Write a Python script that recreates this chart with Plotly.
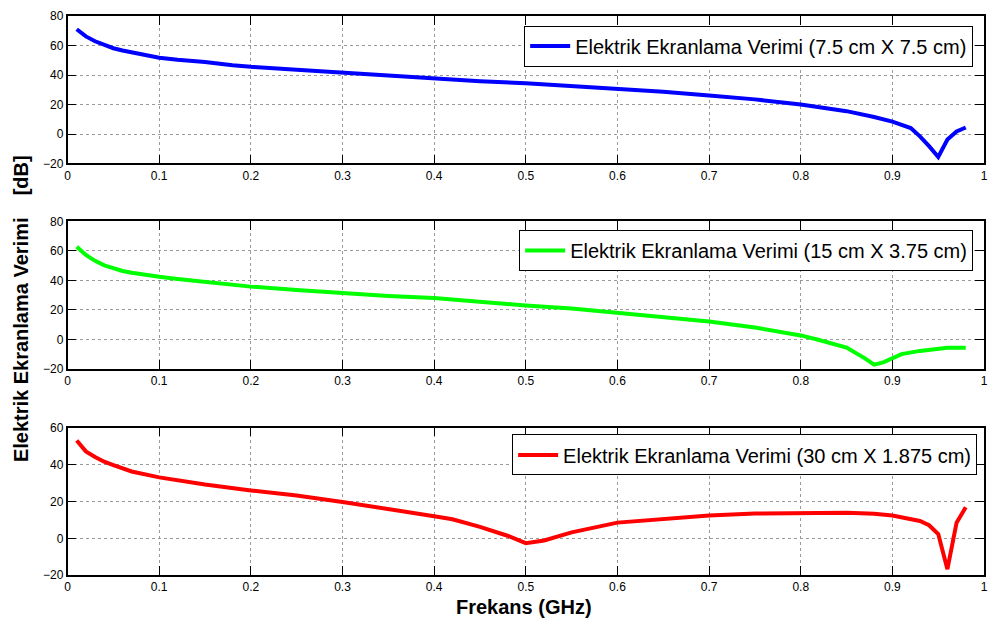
import plotly.graph_objects as go
from plotly.subplots import make_subplots

# ---- data ----
freq_blue = [0.01,0.02,0.03,0.04,0.05,0.06,0.07,0.08,0.09,0.10,0.12,0.15,0.18,0.20,0.25,0.30,0.35,0.40,0.45,
             0.50,0.55,0.60,0.65,0.70,0.75,0.80,0.85,0.88,0.90,0.92,0.93,0.94,0.95,0.96,0.97,0.98]
se_blue = [71.1,66.2,62.9,60.2,58.2,56.7,55.3,54.0,53.1,51.8,50.4,48.9,46.7,45.6,43.6,41.6,39.6,37.6,35.8,
           34.4,32.5,30.7,28.7,26.2,23.5,20.0,15.5,11.5,8.4,4.0,-1.6,-8.2,-15.6,-3.8,1.7,4.4]

freq_green = [0.01,0.02,0.03,0.04,0.05,0.06,0.07,0.08,0.09,0.10,0.12,0.15,0.18,0.20,0.25,0.30,0.35,0.40,0.45,
              0.50,0.55,0.60,0.65,0.70,0.75,0.80,0.82,0.85,0.87,0.88,0.89,0.90,0.91,0.93,0.95,0.96,0.98]
se_green = [62.9,57.3,53.3,50.2,48.4,46.4,45.2,44.2,43.2,42.5,41.0,39.0,37.0,35.8,33.5,31.3,29.5,28.0,25.3,
            23.0,21.0,18.0,15.0,12.1,8.1,2.7,-0.4,-5.5,-12.9,-17.1,-15.6,-12.9,-10.0,-7.8,-6.2,-5.6,-5.6]

freq_red = [0.01,0.02,0.03,0.04,0.05,0.07,0.10,0.12,0.15,0.20,0.25,0.30,0.35,0.40,0.42,0.45,0.48,0.50,0.52,
            0.55,0.60,0.65,0.70,0.75,0.80,0.85,0.88,0.90,0.93,0.94,0.95,0.96,0.97,0.98]
se_red = [53.0,47.1,44.1,41.5,39.7,36.2,33.0,31.4,29.1,25.9,23.2,19.7,16.1,12.0,10.3,6.2,1.4,-2.6,-1.2,
          3.2,8.5,10.6,12.4,13.4,13.8,13.8,13.3,12.4,9.4,7.1,2.3,-16.7,8.5,16.8]

names = ["Elektrik Ekranlama Verimi (7.5 cm X 7.5 cm)",
         "Elektrik Ekranlama Verimi (15 cm X 3.75 cm)",
         "Elektrik Ekranlama Verimi (30 cm X 1.875 cm)"]
colors = ["#0000FF", "#00FF00", "#FF0000"]

x_ticks = [0, 0.1, 0.2, 0.3, 0.4, 0.5, 0.6, 0.7, 0.8, 0.9, 1]
x_tick_text = ["0", "0.1", "0.2", "0.3", "0.4", "0.5", "0.6", "0.7", "0.8", "0.9", "1"]
y_ranges = [[-20, 80], [-20, 80], [-20, 60]]
y_ticks = [[-20, 0, 20, 40, 60, 80], [-20, 0, 20, 40, 60, 80], [-20, 0, 20, 40, 60]]

W, H = 998, 637
fig = make_subplots(rows=3, cols=1)

series = [(freq_blue, se_blue), (freq_green, se_green), (freq_red, se_red)]
legend_ids = ["legend", "legend2", "legend3"]
for i, (xs, ys) in enumerate(series):
    fig.add_trace(go.Scatter(x=xs, y=ys, mode="lines", name=names[i],
                             line=dict(color=colors[i], width=4),
                             legend=legend_ids[i], showlegend=True),
                  row=i + 1, col=1)

# pixel geometry of the three plot areas (top, bottom in px)
panels = [(9.3, 160.0), (219.3, 370.0), (430.0, 581.0)]
x0, x1 = 65 / W, 988 / W
font = "Liberation Sans, Arial, sans-serif"

for i, (top, bot) in enumerate(panels):
    ax = "" if i == 0 else str(i + 1)
    fig.layout["xaxis" + ax].update(
        domain=[x0, x1], range=[0, 1], tickvals=x_ticks, ticktext=x_tick_text,
        ticks="inside", ticklen=9, tickcolor="black", mirror="ticks",
        showline=True, linecolor="black", linewidth=1.5,
        showgrid=True, gridcolor="#9a9a9a", griddash="dot", gridwidth=1,
        zeroline=False, tickfont=dict(family=font, size=12, color="black"))
    fig.layout["yaxis" + ax].update(
        domain=[1 - bot / H, 1 - top / H], range=y_ranges[i], tickvals=y_ticks[i],
        ticks="inside", ticklen=9, tickcolor="black", mirror="ticks",
        showline=True, linecolor="black", linewidth=1.5,
        showgrid=True, gridcolor="#9a9a9a", griddash="dot", gridwidth=1,
        zeroline=False, tickfont=dict(family=font, size=12, color="black"))

legend_boxes = [(977, 19), (977, 228), (981, 437)]
for i, (rx, ty) in enumerate(legend_boxes):
    fig.layout[legend_ids[i]] = dict(
        x=rx / W, y=1 - ty / H, xanchor="right", yanchor="top",
        bgcolor="white", bordercolor="black", borderwidth=1,
        font=dict(family=font, size=20, color="black"),
        itemwidth=40, tracegroupgap=0)

fig.add_annotation(text="Elektrik Ekranlama Verimi\u00a0\u00a0\u00a0\u00a0[dB]", xref="paper", yref="paper",
                   x=18 / W, y=1 - 308 / H, textangle=-90, showarrow=False,
                   xanchor="center", yanchor="middle",
                   font=dict(family=font, size=20, color="black", weight="bold"))
fig.add_annotation(text="Frekans (GHz)", xref="paper", yref="paper",
                   x=525 / W, y=1 - 613 / H, showarrow=False,
                   xanchor="center", yanchor="middle",
                   font=dict(family=font, size=20, color="black", weight="bold"))

fig.update_layout(width=W, height=H, margin=dict(l=0, r=0, t=0, b=0),
                  paper_bgcolor="white", plot_bgcolor="white")
fig.write_html("out.html")
